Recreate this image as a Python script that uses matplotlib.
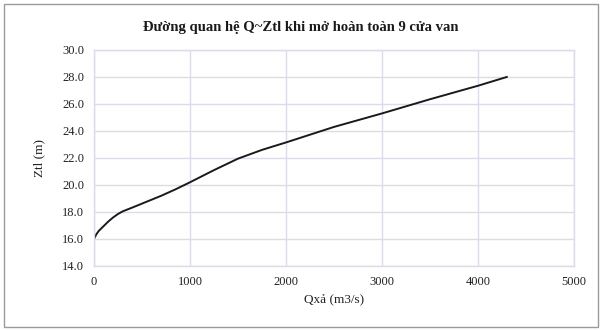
import matplotlib
matplotlib.use("Agg")
import matplotlib.pyplot as plt
from matplotlib.patches import Rectangle

# Discharge through the spillway (m3/s) and upstream water level (m)
discharge = [0, 25, 50, 100, 150, 200, 250, 300, 400, 500, 700, 850, 1000,
             1250, 1500, 1750, 2000, 2500, 3000, 3500, 4000, 4300]
water_level = [16.0, 16.35, 16.6, 16.95, 17.3, 17.6, 17.85, 18.05, 18.33, 18.62, 19.2, 19.68, 20.2,
               21.1, 21.95, 22.6, 23.15, 24.3, 25.3, 26.35, 27.35, 28.0]

x_ticks = [0, 1000, 2000, 3000, 4000, 5000]
y_ticks = [14.0, 16.0, 18.0, 20.0, 22.0, 24.0, 26.0, 28.0, 30.0]

title = "Đường quan hệ Q~Ztl khi mở hoàn toàn 9 cửa van"
x_label = "Qxả (m3/s)"
y_label = "Ztl (m)"

plt.rcParams["font.family"] = ["Liberation Serif", "DejaVu Serif"]

fig = plt.figure(figsize=(6.02, 3.31), dpi=100)
fig.patch.set_facecolor("white")

# thin frame around the whole chart
fig.patches.append(Rectangle((0.007, 0.012), 0.986, 0.975, transform=fig.transFigure,
                             fill=False, edgecolor="#9a9a9a", linewidth=1.0))

ax = fig.add_axes([0.1561, 0.1964, 0.7973, 0.6526])
ax.plot(discharge, water_level, color="#1a1a1a", linewidth=1.4)

ax.set_xlim(0, 5000)
ax.set_ylim(14.0, 30.0)
ax.set_xticks(x_ticks)
ax.set_yticks(y_ticks)
ax.set_xticklabels([str(v) for v in x_ticks])
ax.set_yticklabels([f"{v:.1f}" for v in y_ticks])
ax.tick_params(length=0, labelsize=9, colors="#222222", pad=7)

ax.grid(True, color="#dcdce6", linewidth=1.0)
ax.set_axisbelow(True)
for sp in ax.spines.values():
    sp.set_color("#dcdce6")
    sp.set_linewidth(1.0)

ax.set_xlabel(x_label, fontsize=9.5, color="#222222", labelpad=4)
ax.set_ylabel(y_label, fontsize=9.5, color="#222222", labelpad=12)

fig.text(0.5, 0.918, title, ha="center", va="center", fontsize=10.5,
         fontweight="bold", color="#1a1a1a")

fig.savefig("out.png", dpi=100, facecolor="white")
